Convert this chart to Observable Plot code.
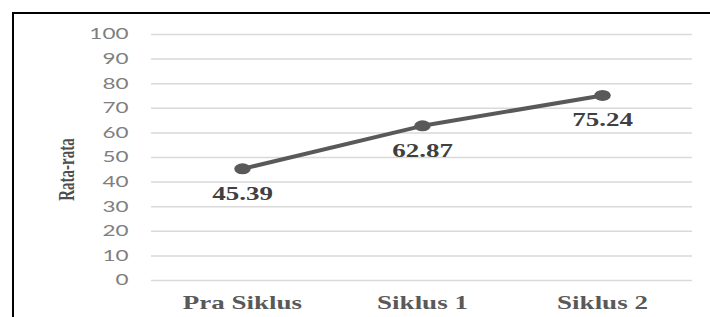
<!DOCTYPE html>
<html><head><meta charset="utf-8">
<script src="https://cdn.jsdelivr.net/npm/d3@7"></script>
<script src="https://cdn.jsdelivr.net/npm/@observablehq/plot@0.6"></script>
<style>
html,body{margin:0;padding:0;background:#fff;overflow:hidden;}
#wrap{position:relative;width:710px;height:317px;overflow:hidden;}
#wrap svg{position:absolute;left:0;top:0;}
#border{position:absolute;left:12px;top:12px;width:720px;height:330px;border-left:2px solid #000;border-top:2px solid #000;pointer-events:none;}
</style></head><body>
<div id="wrap"><div id="border"></div></div>
<script>
const categories = ["Pra Siklus", "Siklus 1", "Siklus 2"];
const values = [45.39, 62.87, 75.24];
const valueLabels = ["45.39", "62.87", "75.24"];
const yTicks = [0, 10, 20, 30, 40, 50, 60, 70, 80, 90, 100];
const yLabel = "Rata-rata";

const data = categories.map((c, i) => ({c, v: values[i], t: valueLabels[i]}));
const stretchX = 1.5;
const serif = "'Liberation Serif', 'Times New Roman', serif";

const chart = Plot.plot({
  width: 710, height: 317,
  marginLeft: 151, marginRight: 18, marginTop: 34, marginBottom: 37,
  style: {background: "transparent", overflow: "visible"},
  x: {type: "point", domain: categories, padding: 0.5},
  y: {domain: [0, 100]},
  marks: [
    Plot.ruleY(yTicks, {stroke: "#d9d9d9", strokeWidth: 1.5}),
    Plot.axisY(yTicks, {tickSize: 0, tickPadding: 23, fontSize: 15, fontFamily: "Lato", fill: "#7f7f7f", label: null}),
    Plot.axisX({tickSize: 0, tickPadding: 16, fontSize: 18, fontWeight: "bold", fontFamily: serif, fill: "#595959", label: null}),
    Plot.line(data, {x: "c", y: "v", stroke: "#595959", strokeWidth: 4}),
    Plot.dot(data, {x: "c", y: "v", r: 5.5, fill: "#595959"}),
    Plot.text(data, {x: "c", y: "v", text: "t", dy: 25, fontSize: 18, fontWeight: "bold", fontFamily: serif, fill: "#404040"}),
    Plot.text([yLabel], {frameAnchor: "left", textAnchor: "middle", text: d => d, rotate: -90, dx: -85, dy: 12, fontSize: 15, fontWeight: "bold", fontFamily: serif, fill: "#4d4d4d"})
  ]
});

const wrap = document.getElementById("wrap");
wrap.prepend(chart);

// horizontal stretch of the original picture
function stretch(el, ax) {
  const orig = el.getAttribute("transform") || "";
  el.setAttribute("transform", `translate(${ax},0) scale(${stretchX},1) translate(${-ax},0) ${orig}`);
}
d3.select(chart).selectAll("text").each(function() {
  let ax = 0;
  const tl = this.transform && this.transform.baseVal;
  if (tl && tl.numberOfItems) ax += tl.consolidate().matrix.e;
  const xa = this.getAttribute("x");
  if (xa) ax += parseFloat(xa);
  stretch(this, ax);
});
d3.select(chart).selectAll("circle").each(function() {
  stretch(this, parseFloat(this.getAttribute("cx")) || 0);
});
</script>
</body></html>
